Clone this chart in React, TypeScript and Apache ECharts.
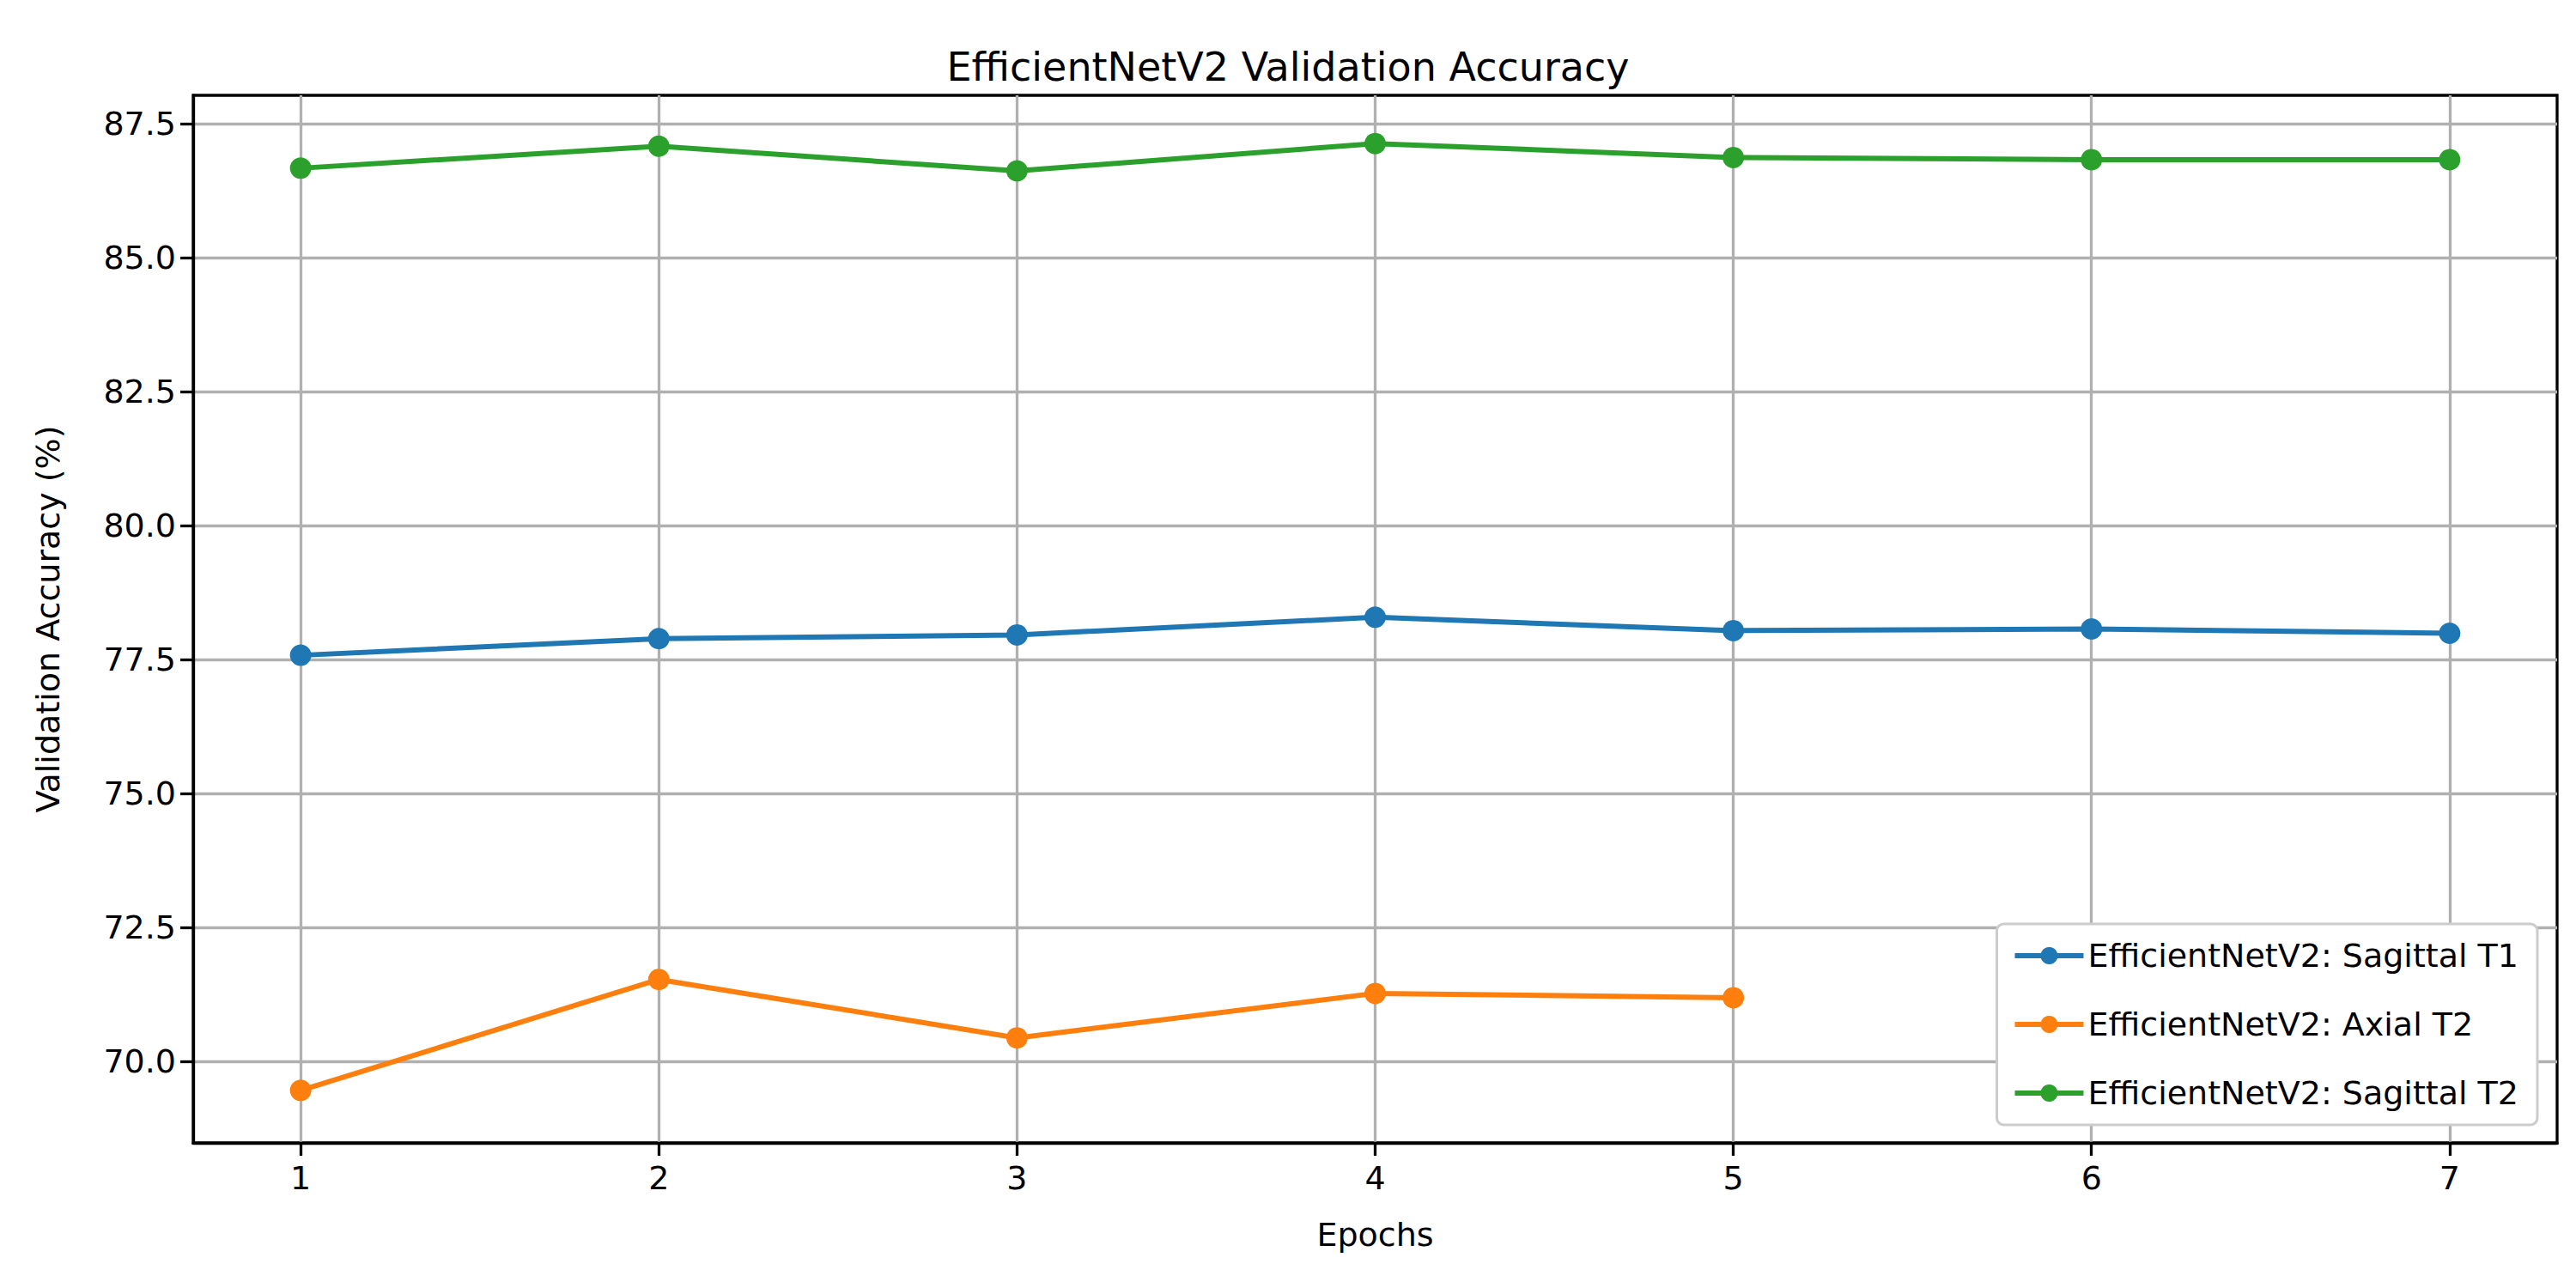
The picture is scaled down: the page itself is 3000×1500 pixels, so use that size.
import { useRef, useEffect } from 'react';
import * as echarts from 'echarts';

const epochs = [1, 2, 3, 4, 5, 6, 7];
const sagittalT1 = [77.58, 77.89, 77.96, 78.29, 78.04, 78.07, 77.99];
const axialT2 = [69.46, 71.53, 70.44, 71.27, 71.19];
const sagittalT2 = [86.67, 87.08, 86.62, 87.13, 86.87, 86.83, 86.83];
const yTicks = [70, 72.5, 75, 77.5, 80, 82.5, 85, 87.5];

const font = 'DejaVu Sans';

function lineSeries(name: string, color: string, values: number[]) {
  return {
    name, type: 'line', data: values.map((v, i) => [epochs[i], v]),
    lineStyle: { color, width: 6 }, itemStyle: { color },
    symbol: 'circle', symbolSize: 25, z: 5,
  };
}

export default function App() {
  const ref = useRef<HTMLDivElement>(null);

  useEffect(() => {
    document.body.style.margin = '0';
    if (!ref.current) return;
    const chart = echarts.init(ref.current, undefined, { renderer: 'svg' });
    const axisLine = { show: true, onZero: false, lineStyle: { color: '#000', width: 3.3 } };
    chart.setOption({
      animation: false,
      backgroundColor: '#fff',
      title: {
        text: 'EfficientNetV2 Validation Accuracy', left: 'center', top: 50,
        textStyle: { fontFamily: font, fontSize: 46, fontWeight: 'normal', color: '#000' },
      },
      grid: { left: 225, right: 22, top: 111, bottom: 169, show: true, borderColor: '#000', borderWidth: 3.3 },
      xAxis: {
        type: 'value', min: 0.7, max: 7.3,
        name: 'Epochs', nameLocation: 'middle', nameGap: 88,
        nameTextStyle: { fontFamily: font, fontSize: 38, color: '#000' },
        axisLine,
        axisTick: { show: true, customValues: epochs, length: 15, lineStyle: { color: '#000', width: 3.3 } },
        axisLabel: { customValues: epochs, fontFamily: font, fontSize: 38, color: '#000', margin: 22 },
        splitLine: { show: true, lineStyle: { color: '#b0b0b0', width: 3.3 } },
      },
      yAxis: {
        type: 'value', min: 68.48, max: 88.03,
        name: 'Validation Accuracy (%)', nameLocation: 'middle', nameGap: 150,
        nameTextStyle: { fontFamily: font, fontSize: 38, color: '#000' },
        axisLine,
        axisTick: { show: true, customValues: yTicks, length: 15, lineStyle: { color: '#000', width: 3.3 } },
        axisLabel: { customValues: yTicks, formatter: (v: number) => v.toFixed(1), fontFamily: font, fontSize: 38, color: '#000', margin: 20 },
        splitLine: { show: true, lineStyle: { color: '#b0b0b0', width: 3.3 } },
      },
      legend: {
        orient: 'vertical', right: 45, bottom: 190,
        itemWidth: 80, itemHeight: 25, itemGap: 42,
        padding: [18, 22, 18, 18],
        backgroundColor: '#fff', borderColor: '#cccccc', borderWidth: 3, borderRadius: 8,
        lineStyle: { width: 6 },
        textStyle: { fontFamily: font, fontSize: 38, color: '#000' },
        data: ['EfficientNetV2: Sagittal T1', 'EfficientNetV2: Axial T2', 'EfficientNetV2: Sagittal T2'],
      },
      series: [
        lineSeries('EfficientNetV2: Sagittal T1', '#1f77b4', sagittalT1),
        lineSeries('EfficientNetV2: Axial T2', '#ff7f0e', axialT2),
        lineSeries('EfficientNetV2: Sagittal T2', '#2ca02c', sagittalT2),
      ],
    });
    return () => chart.dispose();
  }, []);

  return <div ref={ref} style={{ width: 3000, height: 1500 }} />;
}
